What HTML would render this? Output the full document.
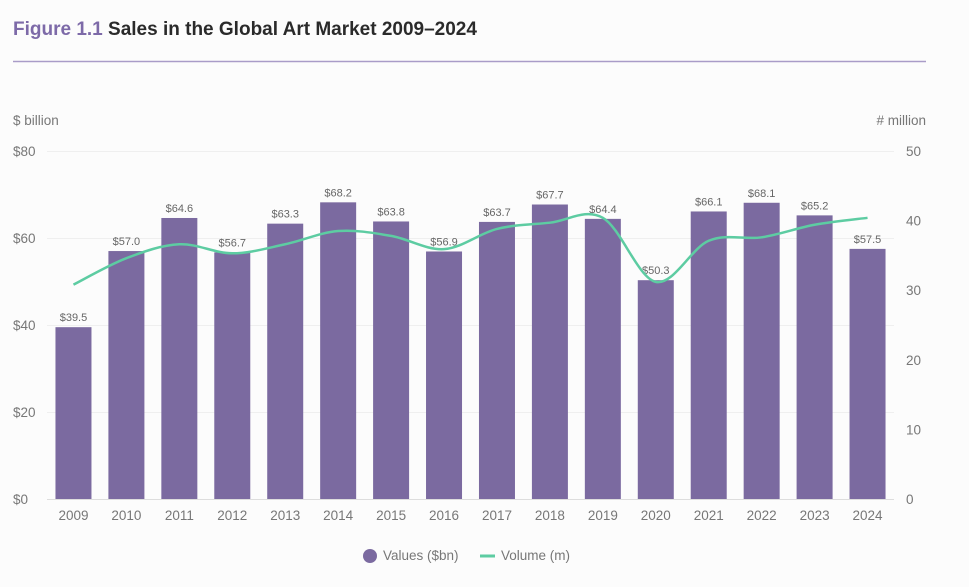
<!DOCTYPE html>
<html><head><meta charset="utf-8"><style>
body{margin:0;background:#fcfcfc;font-family:"Liberation Sans",sans-serif}
svg{display:block}
</style></head><body>
<svg id="c" width="969" height="587">
<text x="13" y="35" font-size="19" font-weight="bold" fill="#7d6aa8">Figure 1.1 <tspan fill="#2a2a2a">Sales in the Global Art Market 2009–2024</tspan></text>
<line x1="13" y1="61.5" x2="926" y2="61.5" stroke="#a99cc8" stroke-width="1.5"/>
<text x="13" y="125" font-size="13.5" fill="#777">$ billion</text>
<text x="926" y="125" font-size="13.5" fill="#777" text-anchor="end"># million</text>
<g id="g"></g>
<g>
<circle cx="370" cy="556" r="7" fill="#7b6aa0"/>
<text x="383" y="560" font-size="13.5" fill="#777">Values ($bn)</text>
<line x1="480" y1="556" x2="495" y2="556" stroke="#5dcca2" stroke-width="3"/>
<text x="501" y="560" font-size="13.5" fill="#777">Volume (m)</text>
</g>
</svg>
<script>
const years=["2009","2010","2011","2012","2013","2014","2015","2016","2017","2018","2019","2020","2021","2022","2023","2024"];
const values=[39.5,57.0,64.6,56.7,63.3,68.2,63.8,56.9,63.7,67.7,64.4,50.3,66.1,68.1,65.2,57.5];
const volume=[30.8,34.6,36.6,35.3,36.6,38.5,37.8,35.9,38.8,39.7,40.4,31.2,37.1,37.6,39.4,40.4];
const leftTicks=[0,20,40,60,80];
const rightTicks=[0,10,20,30,40,50];
const NS="http://www.w3.org/2000/svg",g=document.getElementById('g');
const yTop=151,yBot=499,x0=47,x1=894;
const yL=v=>yBot-(v/80)*(yBot-yTop), yR=v=>yBot-(v/50)*(yBot-yTop);
const step=(x1-x0)/years.length, xc=i=>x0+step*(i+0.5), bw=36;
function el(t,a,txt){const e=document.createElementNS(NS,t);for(const k in a)e.setAttribute(k,a[k]);if(txt!=null)e.textContent=txt;g.appendChild(e);return e;}
leftTicks.forEach(t=>{
 const l=el('line',{x1:x0,x2:x1,y1:yL(t)+.5,y2:yL(t)+.5,stroke:t==0?'#ddd':'#efefef'});
 
 
 const tx=el('text',{x:13,y:yL(t)+5,'font-size':13.5,fill:'#777'},'$'+t);
 
 
});
rightTicks.forEach(t=>{
 const tx=el('text',{x:906,y:yR(t)+5,'font-size':13.5,fill:'#777'},t);
 
 
});
values.forEach((v,i)=>{
 const r=el('rect',{x:xc(i)-bw/2,y:yL(v),width:bw,height:yBot-yL(v),fill:'#7b6aa0'});
 
 
 const t=el('text',{x:xc(i),y:yL(v)-6,'font-size':11,fill:'#666','text-anchor':'middle'},'$'+v.toFixed(1));
 
 
 const yl=el('text',{x:xc(i),y:520,'font-size':13.5,fill:'#777','text-anchor':'middle'},years[i]);
 
 
});
const pts=volume.map((v,i)=>[xc(i),yR(v)]);
let d='M'+pts[0];
for(let i=0;i<pts.length-1;i++){
 const p0=pts[Math.max(0,i-1)],p1=pts[i],p2=pts[i+1],p3=pts[Math.min(pts.length-1,i+2)];
 const c1=[p1[0]+(p2[0]-p0[0])/6,p1[1]+(p2[1]-p0[1])/6],c2=[p2[0]-(p3[0]-p1[0])/6,p2[1]-(p3[1]-p1[1])/6];
 d+=` C${c1} ${c2} ${p2}`;
}
const ln=el('path',{d:d,fill:'none',stroke:'#5dcca2','stroke-width':2.5});


</script>
</body></html>
